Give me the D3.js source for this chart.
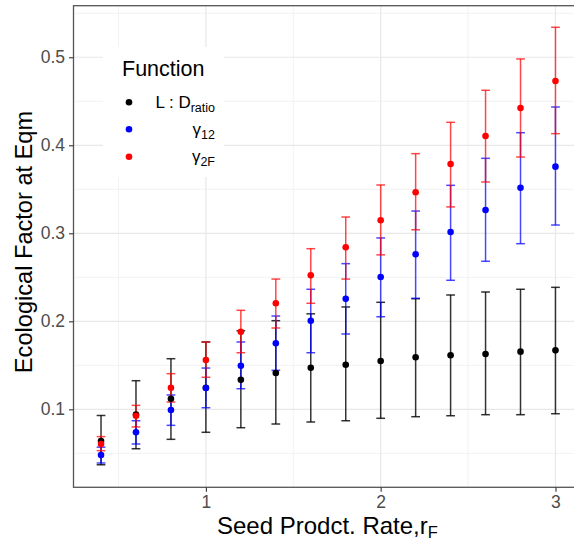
<!DOCTYPE html>
<html><head><meta charset="utf-8">
<script src="https://cdn.jsdelivr.net/npm/d3@7"></script>
<style>body{margin:0;background:#fff}svg{display:block}text{font-family:"Liberation Sans",Arial,sans-serif}</style>
</head><body>
<svg id="chart" width="574" height="543"></svg>
<script>
const rates = [0.4,0.6,0.8,1.0,1.2,1.4,1.6,1.8,2.0,2.2,2.4,2.6,2.8,3.0];
const seriesNames = ["L:D_ratio","gamma12","gamma2F"];
const seriesColors = ["#000000","#0000ff","#ff0000"];
const ldMean = [0.064,0.094,0.112,0.1245,0.1336,0.1412,0.1473,0.1507,0.1549,0.1591,0.1614,0.1628,0.1655,0.167];
const ldLow  = [0.037,0.0552,0.0659,0.0739,0.0791,0.0833,0.0856,0.087,0.0898,0.0916,0.0927,0.0939,0.0939,0.095];
const ldHigh = [0.093,0.1325,0.1575,0.1765,0.1893,0.2007,0.2085,0.2163,0.2216,0.2257,0.2299,0.2333,0.2364,0.2386];
const g12Mean = [0.048,0.0739,0.0992,0.1242,0.1495,0.175,0.2007,0.2255,0.2503,0.2761,0.3015,0.3265,0.3518,0.3757];
const g12Low  = [0.039,0.0606,0.0818,0.1018,0.1234,0.1443,0.1643,0.1856,0.2052,0.2261,0.2466,0.2682,0.2882,0.3094];
const g12High = [0.057,0.087,0.1163,0.1469,0.1765,0.206,0.2364,0.2655,0.2947,0.3253,0.3545,0.3852,0.4143,0.4435];
const g2FMean = [0.0606,0.0927,0.1245,0.156,0.1882,0.2205,0.2522,0.2842,0.3148,0.3466,0.3788,0.4106,0.4424,0.4731];
const g2FLow  = [0.053,0.080,0.1083,0.1364,0.1643,0.1924,0.2205,0.248,0.2755,0.304,0.330,0.3583,0.3867,0.4132];
const g2FHigh = [0.069,0.1045,0.1405,0.1765,0.2125,0.248,0.2825,0.3185,0.3549,0.3905,0.4261,0.4625,0.4981,0.5341];
const xTicks = [1,2,3];
const xMinor = [0.5,1.5,2.5];
const yTicks = [0.1,0.2,0.3,0.4,0.5];
const yMinor = [0.05,0.15,0.25,0.35,0.45,0.55];

const means = [ldMean,g12Mean,g2FMean], lows=[ldLow,g12Low,g2FLow], highs=[ldHigh,g12High,g2FHigh];
const series = seriesNames.map((n,i)=>({name:n,color:seriesColors[i],
  values:rates.map((r,j)=>({x:r,m:means[i][j],lo:lows[i][j],hi:highs[i][j]}))}));

const svg = d3.select("#chart");
const L=73.5, T=5.7, R=583, B=487.3;
const x = d3.scaleLinear().domain([0.2425,3.1575]).range([L,R]);
const y = d3.scaleLinear().domain([0.0114,0.5586]).range([B,T]);

svg.append("rect").attr("x",L).attr("y",T).attr("width",R-L).attr("height",B-T).attr("fill","#fff");
const grid = svg.append("g");
yMinor.forEach(v=>grid.append("line").attr("x1",L).attr("x2",R).attr("y1",y(v)).attr("y2",y(v)).attr("stroke","#f2f2f2").attr("stroke-width",1));
xMinor.forEach(v=>grid.append("line").attr("y1",T).attr("y2",B).attr("x1",x(v)).attr("x2",x(v)).attr("stroke","#f2f2f2").attr("stroke-width",1));
yTicks.forEach(v=>grid.append("line").attr("x1",L).attr("x2",R).attr("y1",y(v)).attr("y2",y(v)).attr("stroke","#e8e8e8").attr("stroke-width",1.2));
xTicks.forEach(v=>grid.append("line").attr("y1",T).attr("y2",B).attr("x1",x(v)).attr("x2",x(v)).attr("stroke","#e8e8e8").attr("stroke-width",1.2));

// legend box (drawn over the grid)
svg.append("rect").attr("x",103).attr("y",47).attr("width",121).attr("height",130).attr("fill","#fff");

// error bars
const hw = x(0.025)-x(0);
series.forEach(s=>{
  const g = svg.append("g").attr("stroke",s.color).attr("stroke-width",1.5).attr("stroke-opacity",s.color==="#000000"?0.8:0.72).attr("fill","none");
  s.values.forEach(d=>{
    g.append("line").attr("x1",x(d.x)).attr("x2",x(d.x)).attr("y1",y(d.lo)).attr("y2",y(d.hi));
    g.append("line").attr("x1",x(d.x)-hw).attr("x2",x(d.x)+hw).attr("y1",y(d.lo)).attr("y2",y(d.lo));
    g.append("line").attr("x1",x(d.x)-hw).attr("x2",x(d.x)+hw).attr("y1",y(d.hi)).attr("y2",y(d.hi));
  });
});
series.forEach(s=>{
  svg.append("g").selectAll("circle").data(s.values).join("circle")
    .attr("cx",d=>x(d.x)).attr("cy",d=>y(d.m)).attr("r",3.3).attr("fill",s.color);
});

// border
svg.append("rect").attr("x",L).attr("y",T).attr("width",R-L).attr("height",B-T).attr("fill","none").attr("stroke","#555").attr("stroke-width",1.3);

// axes
const yAxis = d3.axisLeft(y).tickValues(yTicks).tickSize(4.5).tickPadding(4).tickFormat(d3.format(".1f"));
const ya = svg.append("g").attr("transform",`translate(${L},0)`).call(yAxis);
const xAxis = d3.axisBottom(x).tickValues(xTicks).tickSize(4.5).tickPadding(4).tickFormat(d3.format("d"));
const xa = svg.append("g").attr("transform",`translate(0,${B})`).call(xAxis);
[ya,xa].forEach(a=>{
  a.select(".domain").remove();
  a.selectAll(".tick line").attr("stroke","#333").attr("stroke-width",1.1);
  a.selectAll(".tick text").attr("fill","#4d4d4d").attr("font-size",17.5).attr("font-family","Liberation Sans, Arial, sans-serif");
});

// axis titles
svg.append("text").attr("transform","translate(31.5,242) rotate(-90)").attr("text-anchor","middle")
  .attr("font-size",23.6).attr("fill","#000").text("Ecological Factor at Eqm");
const xt = svg.append("text").attr("x",217).attr("y",534).attr("font-size",24).attr("fill","#000");
xt.append("tspan").text("Seed Prodct. Rate,r");
xt.append("tspan").attr("dy",4).attr("font-size",16.5).text("F");

// legend
svg.append("text").attr("x",122).attr("y",75.5).attr("font-size",21.5).attr("fill","#000").text("Function");
const legY = [102.3,129.3,156.7];
const legMain = ["L : D","\u03b3","\u03b3"];
const legSub = ["ratio","12","2F"];
series.forEach((s,i)=>{
  svg.append("circle").attr("cx",129).attr("cy",legY[i]).attr("r",3.3).attr("fill",s.color);
  const t = svg.append("text").attr("x",215).attr("y",legY[i]+5.5).attr("text-anchor","end").attr("font-size",17).attr("fill","#000");
  t.append("tspan").text(legMain[i]);
  t.append("tspan").attr("dy",4).attr("font-size",12.5).text(legSub[i]);
});
</script>
</body></html>
